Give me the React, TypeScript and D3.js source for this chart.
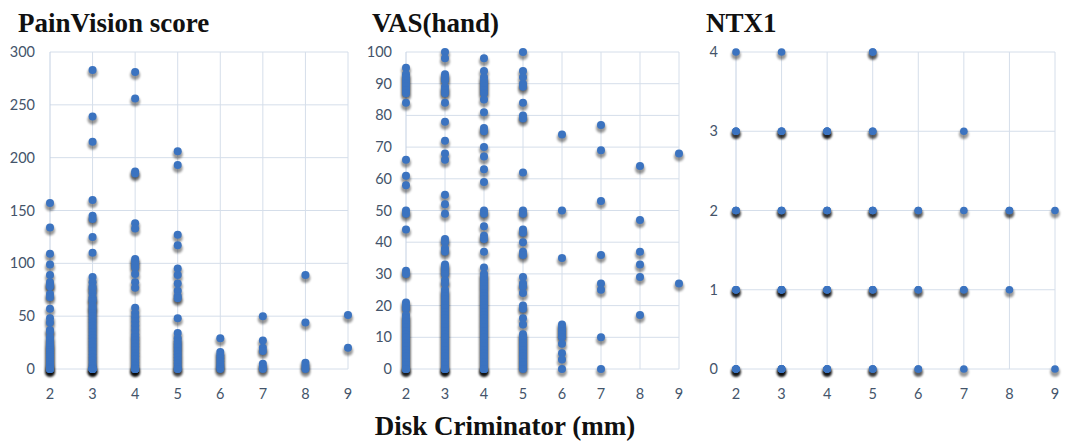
import React from 'react';
import * as d3 from 'd3';

// Disk Criminator categories (mm)
const diskValues = [2, 3, 4, 5, 6, 7, 8, 9];

// PainVision score, one list per disk value
const painVision = [
  [157, 134, 109, 99, 89, 82, 80, 78, 71, 68, 57, 48, 44, 37, 35, 30, 27, 24, 22, 20, 18, 16, 14, 12, 10, 8, 6, 4, 3, 2, 1, 0, 0, 0, 0],
  [283, 239, 215, 160, 145, 142, 125, 110, 87, 82, 78, 76, 72, 68, 66, 64, 60, 58, 56, 53, 50, 47, 44, 41, 38, 35, 32, 29, 26, 23, 20, 17, 14, 11, 8, 5, 3, 1, 0, 0, 0, 0, 0, 0],
  [281, 256, 187, 185, 138, 133, 104, 102, 99, 96, 90, 82, 77, 58, 53, 49, 45, 41, 37, 33, 30, 27, 24, 21, 18, 15, 12, 9, 6, 3, 1, 0, 0, 0, 0, 0],
  [206, 193, 127, 117, 95, 89, 81, 74, 69, 67, 48, 34, 29, 26, 23, 20, 17, 14, 11, 8, 5, 2, 0, 0],
  [29, 16, 13, 10, 7, 4, 2, 0],
  [50, 27, 20, 17, 5, 2, 0],
  [89, 44, 6, 3, 0],
  [51, 20],
];

// VAS(hand)
const vasHand = [
  [95, 93, 92, 91, 90, 89, 88, 87, 84, 66, 61, 58, 50, 49, 44, 31, 30, 21, 20, 19, 17, 16, 15, 14, 13, 12, 11, 10, 9, 8, 7, 6, 5, 4, 3, 2, 1, 0, 0, 0, 0],
  [100, 98, 93, 92, 91, 89, 88, 87, 84, 78, 72, 68, 66, 55, 52, 49, 41, 40, 38, 37, 33, 32, 31, 30, 28, 27, 25, 24, 23, 22, 21, 20, 19, 18, 17, 16, 15, 14, 13, 12, 11, 10, 9, 8, 7, 6, 5, 4, 3, 2, 1, 0, 0, 0, 0, 0],
  [98, 94, 92, 91, 90, 89, 88, 87, 85, 81, 76, 75, 70, 67, 63, 59, 50, 49, 45, 42, 41, 37, 32, 30, 29, 28, 27, 26, 25, 24, 23, 22, 21, 20, 19, 18, 17, 16, 15, 14, 13, 12, 11, 10, 9, 8, 7, 6, 5, 4, 3, 2, 1, 0, 0, 0, 0, 0],
  [100, 94, 92, 90, 89, 84, 80, 79, 62, 50, 49, 44, 43, 40, 37, 36, 29, 27, 26, 24, 20, 19, 16, 14, 11, 10, 9, 8, 7, 6, 5, 4, 3, 2, 1, 0],
  [74, 50, 35, 14, 13, 12, 11, 10, 8, 5, 3, 0],
  [77, 69, 53, 36, 27, 25, 10, 0],
  [64, 47, 37, 33, 29, 17],
  [68, 27],
];

// NTX1 (repeats kept so the stacked shadows darken like the original)
const ntx1 = [
  [4, 3, 3, 3, 2, 2, 2, 1, 1, 1, 1, 0, 0, 0, 0, 0],
  [4, 3, 3, 3, 2, 2, 2, 1, 1, 1, 1, 1, 0, 0, 0, 0, 0, 0],
  [3, 3, 3, 3, 2, 2, 2, 1, 1, 1, 1, 0, 0, 0, 0, 0],
  [4, 4, 3, 3, 2, 2, 2, 1, 1, 1, 0, 0, 0],
  [2, 2, 1, 1, 0, 0],
  [3, 2, 1, 1, 0],
  [2, 2, 1],
  [2, 0],
];

const pvTicks = [0, 50, 100, 150, 200, 250, 300];
const vasTicks = [0, 10, 20, 30, 40, 50, 60, 70, 80, 90, 100];
const ntxTicks = [0, 1, 2, 3, 4];

const blue = '#3b73c0';
const gridColor = '#d5deea';
const tickColor = '#44546a';

function Panel(props: any) {
  const { id, title, data, ticks, x0, x1, labelX, titleX, r } = props;
  const top = 52, bottom = 369;
  const x = d3.scaleLinear().domain([2, 9]).range([x0, x1]);
  const y = d3.scaleLinear().domain([0, ticks[ticks.length - 1]]).range([bottom, top]);

  const points: { x: number; y: number }[] = [];
  data.forEach((col: number[], i: number) => {
    col.forEach((v) => points.push({ x: diskValues[i], y: v }));
  });

  return (
    <g>
      <text x={titleX} y={32} fontFamily="'Liberation Serif', serif" fontWeight="bold" fontSize={27} fill="#111">
        {title}
      </text>
      {ticks.map((t: number) => (
        <line key={'h' + t} x1={x0} x2={x1} y1={y(t)} y2={y(t)} stroke={gridColor} strokeWidth={1} />
      ))}
      {diskValues.map((d) => (
        <line key={'v' + d} x1={x(d)} x2={x(d)} y1={top} y2={bottom} stroke={d === 2 ? '#c3d0e2' : gridColor} strokeWidth={1} />
      ))}
      {ticks.map((t: number) => (
        <text key={'yl' + t} x={labelX} y={y(t)} dy="0.35em" textAnchor="end" fontFamily="Lato, sans-serif" fontSize={14.5} fill={tickColor}>
          {t}
        </text>
      ))}
      {diskValues.map((d) => (
        <text key={'xl' + d} x={x(d)} y={394} dy="0.35em" textAnchor="middle" fontFamily="Lato, sans-serif" fontSize={14.5} fill={tickColor}>
          {d}
        </text>
      ))}
      <g filter={`url(#blur-${id})`}>
        {points.map((p, i) => (
          <circle key={'s' + i} cx={x(p.x)} cy={y(p.y) + 3} r={r + 1} fill="#000" fillOpacity={0.4} />
        ))}
      </g>
      {points.map((p, i) => (
        <circle key={'p' + i} cx={x(p.x)} cy={y(p.y)} r={r} fill={blue} />
      ))}
      <defs>
        <filter id={`blur-${id}`} x="-50%" y="-50%" width="200%" height="200%">
          <feGaussianBlur stdDeviation={1.1} />
        </filter>
      </defs>
    </g>
  );
}

export default function App() {
  return (
    <svg width={1070} height={441} style={{ position: 'absolute', left: 0, top: 0, background: '#fff' }}>
      <rect width={1070} height={441} fill="#fff" />
      <Panel id="pv" title="PainVision score" data={painVision} ticks={pvTicks} x0={50} x1={348} labelX={35} titleX={18} r={4} />
      <Panel id="vas" title="VAS(hand)" data={vasHand} ticks={vasTicks} x0={406} x1={679} labelX={392} titleX={372} r={4} />
      <Panel id="ntx" title="NTX1" data={ntx1} ticks={ntxTicks} x0={736} x1={1055} labelX={718} titleX={706} r={3.8} />
      <text x={505} y={435} textAnchor="middle" fontFamily="'Liberation Serif', serif" fontWeight="bold" fontSize={27} fill="#111">
        Disk Criminator (mm)
      </text>
    </svg>
  );
}
